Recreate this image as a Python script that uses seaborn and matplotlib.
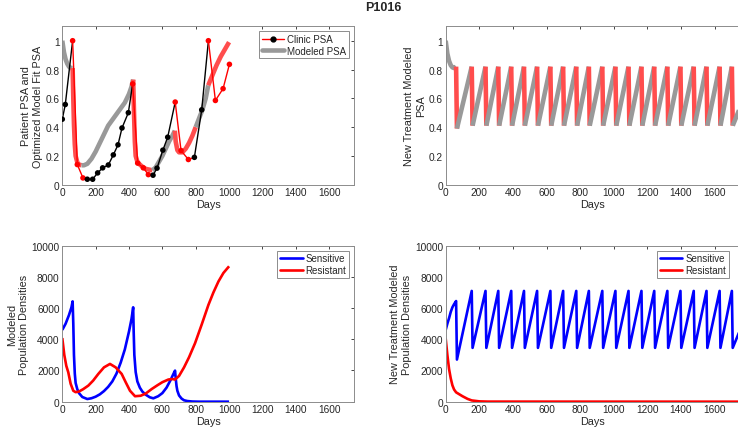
import numpy as np
import pandas as pd
import seaborn as sns
import matplotlib.pyplot as plt
from matplotlib.lines import Line2D

# ---- clinic PSA (patient data), 1 = on treatment
clinic_days = [0, 18, 62, 90, 124, 150, 182, 212, 242, 276, 306, 334, 358, 396, 422,
               452, 486, 516, 544, 568, 603, 632, 677, 712, 756, 792, 836, 876, 918, 964, 1002]
clinic_psa = [0.455, 0.557, 1.0, 0.14, 0.047, 0.038, 0.038, 0.082, 0.117, 0.137, 0.207, 0.277,
              0.394, 0.5, 0.70, 0.15, 0.117, 0.07, 0.066, 0.115, 0.24, 0.33, 0.574, 0.237,
              0.175, 0.19, 0.52, 1.0, 0.585, 0.667, 0.836]
clinic_on = [0, 0, 1, 1, 1, 0, 0, 0, 0, 0, 0, 0, 0, 0, 1, 1, 1, 1, 0, 0, 0, 0, 1, 1, 1, 0, 0, 1, 1, 1, 1]

# ---- modeled PSA fit
model_days = [0, 10, 20, 30, 40, 50, 62, 66, 70, 75, 80, 90, 100, 115, 130, 150, 175, 200, 225,
              250, 275, 300, 325, 350, 375, 400, 415, 425, 430, 435, 440, 450, 465, 480, 500, 520,
              540, 560, 580, 600, 620, 640, 660, 675, 680, 690, 700, 720, 740, 760, 780, 800, 820,
              840, 860, 875, 900, 925, 950, 975, 1000]
model_psa = [1.0, 0.92, 0.87, 0.84, 0.82, 0.81, 0.81, 0.6, 0.42, 0.28, 0.2, 0.155, 0.14, 0.135,
             0.135, 0.145, 0.18, 0.23, 0.29, 0.35, 0.41, 0.45, 0.49, 0.53, 0.57, 0.63, 0.68, 0.73,
             0.5, 0.3, 0.2, 0.16, 0.14, 0.125, 0.11, 0.105, 0.10, 0.12, 0.16, 0.2, 0.25, 0.3, 0.34,
             0.375, 0.3, 0.24, 0.225, 0.225, 0.25, 0.29, 0.34, 0.40, 0.46, 0.52, 0.6, 0.69, 0.76,
             0.83, 0.89, 0.94, 0.99]
model_on_windows = [(62, 115), (425, 540), (675, 800), (875, 1000)]

# ---- modeled populations (fit)
sens_days = [0, 20, 40, 55, 62, 66, 70, 75, 80, 90, 100, 120, 150, 175, 200, 225, 250, 275, 300,
             325, 350, 375, 400, 415, 425, 428, 432, 440, 450, 465, 480, 500, 525, 546, 575, 600,
             625, 650, 665, 676, 680, 685, 690, 700, 715, 730, 750, 780, 820, 1000]
sens_vals = [4600, 5000, 5550, 6050, 6430, 5000, 3000, 1800, 1200, 800, 550, 300, 170, 220, 320,
             470, 680, 950, 1300, 1800, 2500, 3350, 4500, 5300, 6050, 4500, 3000, 1900, 1300, 900,
             650, 450, 280, 215, 350, 550, 900, 1400, 1750, 1990, 1500, 1000, 700, 400, 200, 90,
             40, 10, 0, 0]
res_days = [0, 12, 24, 36, 50, 66, 80, 100, 125, 156, 185, 216, 250, 286, 320, 356, 380, 406, 436,
            470, 500, 536, 570, 600, 636, 660, 676, 700, 730, 760, 796, 836, 876, 906, 936, 966, 1000]
res_vals = [4080, 3000, 2300, 1880, 1150, 700, 610, 650, 800, 1030, 1350, 1780, 2200, 2420, 2200,
            1780, 1250, 700, 350, 380, 520, 810, 1050, 1250, 1420, 1450, 1420, 1650, 2200, 2850,
            3750, 4950, 6200, 7000, 7700, 8250, 8680]

# ---- new treatment schedule: days treatment switches on (PSA hits 0.82)
nt_on_days = [62, 155, 237, 313, 390, 466, 544, 623, 699, 777, 852, 932, 1010, 1088, 1165, 1241,
              1319, 1397, 1476, 1552, 1630, 1703]
nt_start_days = [0, 10, 20, 30, 40, 50]
nt_start_psa = [1.0, 0.91, 0.86, 0.83, 0.815, 0.81]
nt_psa_high, nt_psa_low, nt_psa_first_low, nt_psa_end = 0.82, 0.41, 0.39, 0.53
nt_sens_start = [4600, 5000, 5350, 5750, 6050, 6250]
nt_sens_high, nt_sens_low, nt_sens_first_high, nt_sens_first_low, nt_sens_end = 7100, 3450, 6450, 2700, 4550
nt_res_days = [0, 10, 20, 30, 40, 50, 62, 80, 100, 130, 155, 200, 250, 1750]
nt_res_vals = [4050, 3000, 2100, 1500, 1050, 780, 600, 480, 350, 180, 80, 20, 5, 0]

RED_THICK = '#ff4d4d'
GRAY = '#999999'
XMAX = 1750


def runs(x, y, seg_on):
    out, start = [], 0
    for i in range(1, len(seg_on) + 1):
        if i == len(seg_on) or seg_on[i] != seg_on[start]:
            out.append((x[start:i + 1], y[start:i + 1], seg_on[start]))
            start = i
    return out


def line(ax, x, y, color, lw):
    sns.lineplot(x=list(x), y=list(y), color=color, lw=lw, ax=ax, sort=False,
                 estimator=None, legend=False, solid_capstyle='butt')


def sawtooth(start_x, start_y, on_days, high, low, first_high, first_low, end_y):
    xs, ys, seg = list(start_x), list(start_y), [0] * (len(start_x) - 1)
    for k, d in enumerate(on_days):
        xs.append(d); ys.append(first_high if k == 0 else high); seg.append(0)
        xs.append(d + 5); ys.append(first_low if k == 0 else low); seg.append(1)
    xs.append(XMAX); ys.append(end_y); seg.append(0)
    return xs, ys, seg


sns.set_style('white')
plt.rcParams['font.family'] = ['Liberation Sans', 'DejaVu Sans']

fig = plt.figure(figsize=(7.38, 4.35), dpi=100)
ax1 = fig.add_axes([0.0844, 0.5731, 0.3955, 0.3641])
ax2 = fig.add_axes([0.6039, 0.5731, 0.3985, 0.3641])
ax3 = fig.add_axes([0.0844, 0.0743, 0.3955, 0.3586])
ax4 = fig.add_axes([0.6039, 0.0743, 0.3985, 0.3586])

# top left: clinic vs model
seg_on = [any(a <= (model_days[i] + model_days[i + 1]) / 2 <= b for a, b in model_on_windows)
          for i in range(len(model_days) - 1)]
for xs, ys, on in runs(model_days, model_psa, seg_on):
    line(ax1, xs, ys, RED_THICK if on else GRAY, 3.3)
for i in range(len(clinic_days) - 1):
    line(ax1, clinic_days[i:i + 2], clinic_psa[i:i + 2], 'red' if clinic_on[i] else 'black', 1.0)
clinic = pd.DataFrame({'day': clinic_days, 'psa': clinic_psa,
                       'state': ['on' if s else 'off' for s in clinic_on]})
sns.scatterplot(data=clinic, x='day', y='psa', hue='state', palette={'on': 'red', 'off': 'black'},
                s=16, edgecolor='none', legend=False, ax=ax1, zorder=5)

# top right: new treatment PSA
xs, ys, seg = sawtooth(nt_start_days, nt_start_psa, nt_on_days, nt_psa_high, nt_psa_low,
                       nt_psa_high, nt_psa_first_low, nt_psa_end)
for rx, ry, on in runs(xs, ys, seg):
    line(ax2, rx, ry, RED_THICK if on else GRAY, 3.3)

# bottom left: populations
line(ax3, sens_days, sens_vals, '#0000ff', 1.9)
line(ax3, res_days, res_vals, '#ff0000', 1.9)

# bottom right: new treatment populations
xs, ys, _ = sawtooth(nt_start_days, nt_sens_start, nt_on_days, nt_sens_high, nt_sens_low,
                     nt_sens_first_high, nt_sens_first_low, nt_sens_end)
line(ax4, xs, ys, '#0000ff', 1.9)
line(ax4, nt_res_days, nt_res_vals, '#ff0000', 1.9)

for ax in (ax1, ax2, ax3, ax4):
    ax.set_xlim(0, XMAX)
    ax.set_xticks(range(0, 1601, 200))
    ax.set_xlabel('Days', fontsize=7.8, color='#262626', labelpad=1)
    ax.tick_params(direction='in', length=2.5, width=0.6, labelsize=7.3, colors='#262626',
                   top=True, right=ax in (ax1, ax3), pad=2)
    for sp in ax.spines.values():
        sp.set_color('#8c8c8c')
        sp.set_linewidth(0.7)

for ax in (ax1, ax2):
    ax.set_ylim(0, 1.1)
    ax.set_yticks([0, 0.2, 0.4, 0.6, 0.8, 1])
    ax.set_yticklabels(['0', '0.2', '0.4', '0.6', '0.8', '1'])
for ax in (ax3, ax4):
    ax.set_ylim(0, 10000)
    ax.set_yticks(range(0, 10001, 2000))

ax1.set_ylabel('Patient PSA and\nOptimized Model Fit PSA', fontsize=7.8, color='#262626', labelpad=2)
ax2.set_ylabel('New Treatment Modeled\nPSA', fontsize=7.8, color='#262626', labelpad=2)
ax3.set_ylabel('Modeled\nPopulation Densities', fontsize=7.8, color='#262626', labelpad=2)
ax4.set_ylabel('New Treatment Modeled\nPopulation Densities', fontsize=7.8, color='#262626', labelpad=2)

leg_kw = dict(fontsize=7, frameon=True, fancybox=False, edgecolor='#8c8c8c', framealpha=1,
              borderpad=0.3, labelspacing=0.15, handlelength=2.3, handletextpad=0.3,
              borderaxespad=0.5)
h1 = [Line2D([], [], color='red', lw=1.0, marker='o', ms=3.5, mfc='black', mec='black'),
      Line2D([], [], color=GRAY, lw=3.3)]
ax1.legend(h1, ['Clinic PSA', 'Modeled PSA'], loc='upper right', **leg_kw).get_frame().set_linewidth(0.7)
h2 = [Line2D([], [], color='#0000ff', lw=1.9), Line2D([], [], color='#ff0000', lw=1.9)]
ax3.legend(h2, ['Sensitive', 'Resistant'], loc='upper right', **leg_kw).get_frame().set_linewidth(0.7)
ax4.legend(h2, ['Sensitive', 'Resistant'], loc='upper right',
           bbox_to_anchor=(0.98, 1), **leg_kw).get_frame().set_linewidth(0.7)

fig.text(0.52, 0.982, 'P1016', fontsize=9, fontweight='bold', ha='center', va='center')

fig.savefig('out.png', dpi=100)
